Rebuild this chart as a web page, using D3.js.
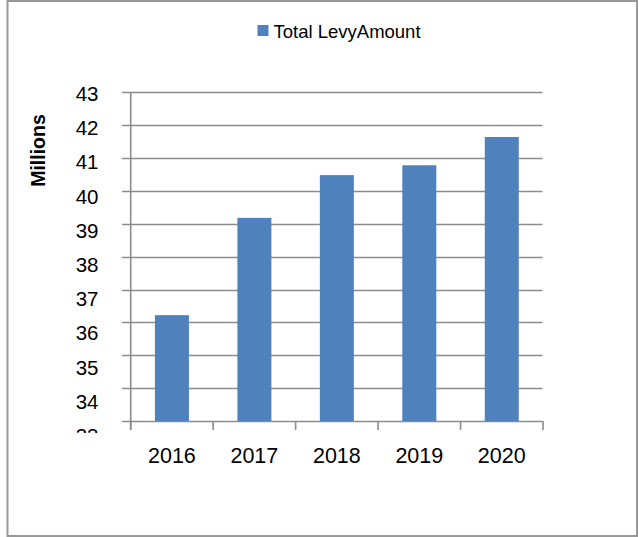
<!DOCTYPE html>
<html><head><meta charset="utf-8">
<script src="https://cdn.jsdelivr.net/npm/d3@7"></script>
<style>body{margin:0;background:#fff}svg{display:block}</style>
</head><body>
<script>
const categories = ["2016","2017","2018","2019","2020"];
const values = [36.22, 39.18, 40.48, 40.78, 41.64];
const yTicks = [33,34,35,36,37,38,39,40,41,42,43];
const seriesName = "Total LevyAmount";
const yTitle = "Millions";

const W = 639, H = 537;
const svg = d3.select("body").append("svg").attr("width", W).attr("height", H);
const font = "'Liberation Sans', Arial, sans-serif";

// outer border
svg.append("rect").attr("x", 7.5).attr("y", 1).attr("width", 629.5).attr("height", 535)
  .attr("fill", "#fff").attr("stroke", "#999").attr("stroke-width", 2);

const x = d3.scaleBand().domain(categories).range([130.7, 543]).paddingInner(0).paddingOuter(0);
const y = d3.scaleLinear().domain([33, 43]).range([421, 92.3]);
const yLab = d3.scaleLinear().domain([33, 43]).range([435.8, 93.5]);

const grid = "#8c8c8c";
// gridlines
svg.append("g").selectAll("line").data(yTicks).join("line")
  .attr("x1", 122).attr("x2", 542.5)
  .attr("y1", d => Math.round(y(d)) + 0.5).attr("y2", d => Math.round(y(d)) + 0.5)
  .attr("stroke", grid).attr("stroke-width", 1.6);

// bars
const bw = 34;
svg.append("g").selectAll("rect").data(values).join("rect")
  .attr("x", (d, i) => x(categories[i]) + x.bandwidth() / 2 - bw / 2)
  .attr("y", d => y(d))
  .attr("width", bw)
  .attr("height", d => y(33) - y(d))
  .attr("fill", "#4f81bd");

// y axis line
svg.append("line").attr("x1", 130.7).attr("x2", 130.7).attr("y1", 92).attr("y2", 430)
  .attr("stroke", grid).attr("stroke-width", 1.6);
// x axis ticks
const xb = categories.map(c => x(c)).concat([x.range()[1]]);
svg.append("g").selectAll("line").data(xb).join("line")
  .attr("x1", d => d).attr("x2", d => d).attr("y1", 421).attr("y2", 430)
  .attr("stroke", grid).attr("stroke-width", 1.6);

// y labels (clipped at bottom)
svg.append("clipPath").attr("id", "yclip").append("rect")
  .attr("x", 40).attr("y", 70).attr("width", 80).attr("height", 363);
svg.append("g").attr("clip-path", "url(#yclip)").selectAll("text").data(yTicks).join("text")
  .attr("x", 98.5).attr("y", d => yLab(d)).attr("dy", "0.36em")
  .attr("text-anchor", "end").attr("font-family", font).attr("font-size", 20.5).attr("fill", "#000")
  .text(d => d);

// x labels
svg.append("g").selectAll("text").data(categories).join("text")
  .attr("x", d => x(d) + x.bandwidth() / 2).attr("y", 455.5).attr("dy", "0.36em")
  .attr("text-anchor", "middle").attr("font-family", font).attr("font-size", 21.5).attr("fill", "#000")
  .text(d => d);

// y title
svg.append("text").attr("transform", "translate(44.5,150.5) rotate(-90)")
  .attr("text-anchor", "middle").attr("font-family", font).attr("font-weight", "bold")
  .attr("font-size", 19.5).attr("fill", "#000").text(yTitle);

// legend
svg.append("rect").attr("x", 257.5).attr("y", 25).attr("width", 11).attr("height", 11).attr("fill", "#4f81bd");
svg.append("text").attr("x", 273.5).attr("y", 31).attr("dy", "0.36em")
  .attr("font-family", font).attr("font-size", 18.5).attr("fill", "#000").text(seriesName);
</script>
</body></html>
